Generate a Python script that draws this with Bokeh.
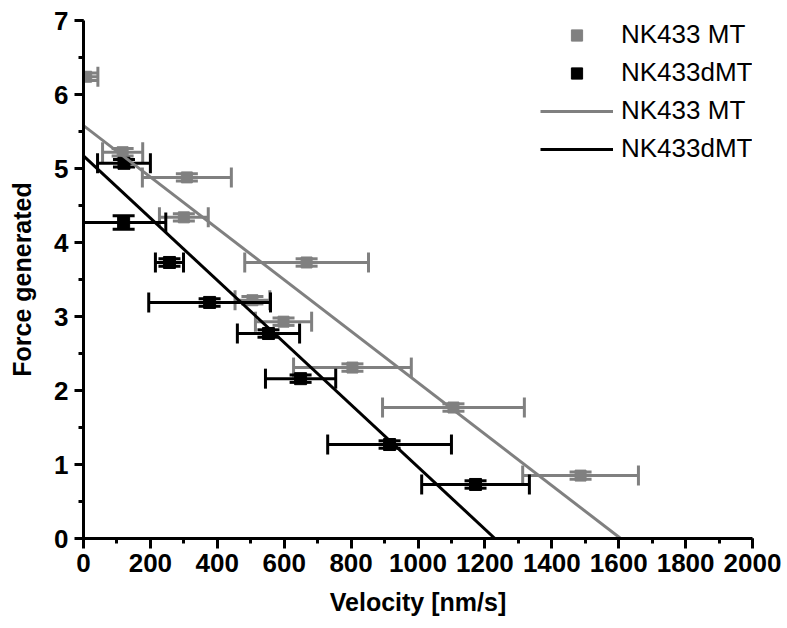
import numpy as np
from bokeh.plotting import figure
from bokeh.models import Range1d, FixedTicker, Legend, LegendItem, ColumnDataSource
from bokeh.embed import file_html
from bokeh.resources import INLINE

# ---- data ----
gray_v = [8, 117, 309, 300, 667, 505, 598, 804, 1106, 1486]
gray_f = [6.24, 5.22, 4.88, 4.34, 3.73, 3.22, 2.93, 2.31, 1.77, 0.85]
gray_verr = [35, 60, 133, 73, 185, 52, 84, 176, 212, 173]
gray_ferr = [0.05, 0.05, 0.05, 0.05, 0.05, 0.05, 0.05, 0.05, 0.05, 0.05]

black_v = [121, 120, 257, 377, 553, 649, 915, 1172]
black_f = [5.07, 4.27, 3.73, 3.19, 2.77, 2.16, 1.27, 0.73]
black_verr = [79, 126, 42, 182, 93, 105, 185, 161]
black_ferr = [0.05, 0.09, 0.05, 0.05, 0.05, 0.05, 0.05, 0.05]

gray_fit_v = [0, 1606]
gray_fit_f = [5.58, 0]
black_fit_v = [0, 1230]
black_fit_f = [5.17, 0]

x_ticks = list(range(0, 2001, 200))
x_minor = list(range(0, 2001, 100))
y_ticks = [0, 1, 2, 3, 4, 5, 6, 7]
y_minor = [i * 0.5 for i in range(15)]

GRAY = "#808080"
BLACK = "#000000"
FONT = "Liberation Sans"

p = figure(width=787, height=628, x_range=Range1d(0, 2000), y_range=Range1d(0, 7),
           min_border_left=83, min_border_right=35, min_border_top=20, min_border_bottom=90,
           output_backend="svg", toolbar_location=None)
p.outline_line_color = None
p.xgrid.visible = False
p.ygrid.visible = False
p.background_fill_color = "white"
p.border_fill_color = "white"


def draw_series(v, f, verr, ferr, color, msize):
    v = np.array(v, dtype=float)
    f = np.array(f, dtype=float)
    verr = np.array(verr, dtype=float)
    ferr = np.array(ferr, dtype=float)
    src = ColumnDataSource(dict(v=v, f=f, lo=v - verr, hi=v + verr, flo=f - ferr, fhi=f + ferr))
    # horizontal error bars
    p.segment(x0="lo", y0="f", x1="hi", y1="f", source=src, line_color=color, line_width=3)
    p.scatter(x="lo", y="f", source=src, marker="dash", angle=np.pi / 2, size=20,
              line_color=color, line_width=3)
    p.scatter(x="hi", y="f", source=src, marker="dash", angle=np.pi / 2, size=20,
              line_color=color, line_width=3)
    # vertical error bars
    p.segment(x0="v", y0="flo", x1="v", y1="fhi", source=src, line_color=color, line_width=3)
    p.scatter(x="v", y="flo", source=src, marker="dash", size=22, line_color=color, line_width=3)
    p.scatter(x="v", y="fhi", source=src, marker="dash", size=22, line_color=color, line_width=3)
    r = p.scatter(x="v", y="f", source=src, marker="square", size=msize,
                  fill_color=color, line_color=color)
    return r


r_gray_pts = draw_series(gray_v, gray_f, gray_verr, gray_ferr, GRAY, 11)
r_black_pts = draw_series(black_v, black_f, black_verr, black_ferr, BLACK, 12)

r_gray_fit = p.line(gray_fit_v, gray_fit_f, line_color=GRAY, line_width=3)
r_black_fit = p.line(black_fit_v, black_fit_f, line_color=BLACK, line_width=3)

# axes
for ax in (p.xaxis[0], p.yaxis[0]):
    ax.axis_line_width = 3
    ax.major_tick_line_width = 3
    ax.minor_tick_line_width = 3
    ax.major_tick_in = 0
    ax.minor_tick_in = 0
    ax.major_label_text_font = FONT
    ax.major_label_text_font_style = "bold"
    ax.major_label_text_font_size = "26px"
    ax.major_label_text_color = "black"
    ax.axis_label_text_font = FONT
    ax.axis_label_text_font_style = "bold"
    ax.axis_label_text_font_size = "25px"
    ax.axis_label_text_color = "black"

p.xaxis.ticker = FixedTicker(ticks=x_ticks, minor_ticks=x_minor)
p.yaxis.ticker = FixedTicker(ticks=y_ticks, minor_ticks=y_minor)
p.xaxis.major_tick_out = 10
p.xaxis.minor_tick_out = 5
p.yaxis.major_tick_out = 9
p.yaxis.minor_tick_out = 5
p.xaxis.major_label_standoff = 5
p.yaxis.major_label_standoff = 6
p.xaxis.axis_label = "Velocity [nm/s]"
p.yaxis.axis_label = "Force generated"
p.xaxis.axis_label_standoff = 13
p.yaxis.axis_label_standoff = 15

legend = Legend(items=[
    LegendItem(label="NK433 MT", renderers=[r_gray_pts]),
    LegendItem(label="NK433dMT", renderers=[r_black_pts]),
    LegendItem(label="NK433 MT", renderers=[r_gray_fit]),
    LegendItem(label="NK433dMT", renderers=[r_black_fit]),
], location=(457, 374))
legend.glyph_width = 73
legend.glyph_height = 28
legend.label_height = 28
legend.spacing = 7
legend.padding = 0
legend.margin = 0
legend.label_standoff = 8
legend.label_text_font = FONT
legend.label_text_font_size = "26px"
legend.label_text_color = "black"
legend.background_fill_alpha = 0
legend.border_line_color = None
p.add_layout(legend, "center")

open("out.html", "w").write(file_html(p, INLINE))
